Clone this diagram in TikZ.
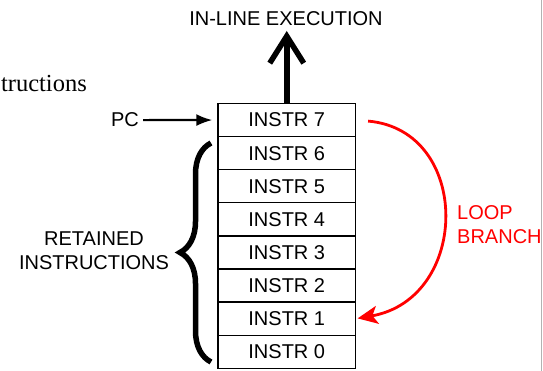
\documentclass[tikz,border=0pt]{standalone}
\usepackage{fontspec}
\setmainfont{Liberation Sans}
\newfontfamily\pagefont{Liberation Serif}
\usetikzlibrary{arrows.meta,decorations.pathreplacing}
\tikzset{
    every node/.style={inner sep=0pt, font=\fontsize{20}{24}\selectfont}
}
\tikzset{
    instr/.style={rectangle, draw, line width=1.3pt, minimum width=137.5pt,
    	minimum height=33.1pt}
}
\tikzset{
    branch/.style={red, line width=2.8pt,
    	-{Stealth[length=20pt,width=18pt,inset=5pt]}}
}

\begin{document}
\begin{tikzpicture}
	\useasboundingbox (0pt,0pt) rectangle (543pt,371pt);
	\node (cut) [anchor=base east, font=\pagefont\fontsize{24.5}{28}\selectfont] at (87pt, 279.3pt) {tructions};
	\draw[gray!60, line width=1pt] (541.5pt,0pt) -- (541.5pt,371pt);

	\node (7) [instr] at (286.75pt, 250.95pt) {INSTR 7};
	\node (6) [instr] at (286.75pt, 217.85pt) {INSTR 6};
	\node (5) [instr] at (286.75pt, 184.75pt) {INSTR 5};
	\node (4) [instr] at (286.75pt, 151.65pt) {INSTR 4};
	\node (3) [instr] at (286.75pt, 118.55pt) {INSTR 3};
	\node (2) [instr] at (286.75pt, 85.45pt) {INSTR 2};
	\node (1) [instr] at (286.75pt, 52.35pt) {INSTR 1};
	\node (0) [instr] at (286.75pt, 19.25pt) {INSTR 0};

	\node (exec) [anchor=base] at (286pt, 345pt) {IN-LINE EXECUTION};
	\coordinate (exectip) at (286.75pt, 340pt);
	\node (pc) [anchor=base] at (125pt, 244pt) {PC};
	\node (kept) [align=center] at (94pt, 120pt) {RETAINED\\INSTRUCTIONS};
	\node (loop) [anchor=west, align=left, text=red] at (457pt, 146pt) {LOOP\\BRANCH};
	\coordinate (bracetop) at (211pt, 228pt);
	\coordinate (bracebot) at (211pt, 9pt);

	\draw[line width=6pt, -{Straight Barb[length=27pt,width=34pt,line width=5.5pt]}] (7.north) -- (exectip);
	\draw[line width=2.2pt, -{Latex[length=16pt,width=12pt]}, shorten <=4pt, shorten >=5pt] (pc.east) -- (7.west);
	\draw[line width=5.5pt, decorate, decoration={brace, amplitude=31pt, aspect=0.5}] (bracebot) -- (bracetop);
	\draw[branch, shorten <=12pt, shorten >=1.5pt] (7.east) to[out=-5, in=10, looseness=1.5] (1.east);
\end{tikzpicture}
\end{document}
